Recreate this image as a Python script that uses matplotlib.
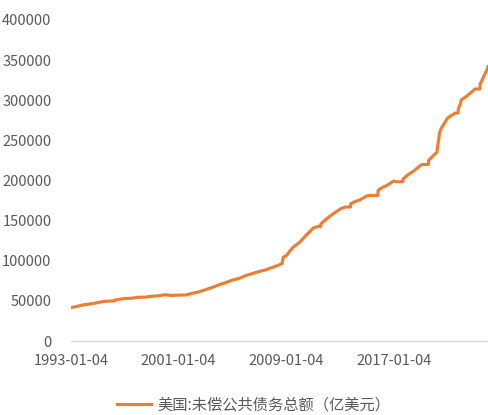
import matplotlib
matplotlib.use("Agg")
import matplotlib.pyplot as plt
import pandas as pd

plt.rcParams['font.family'] = ['Noto Sans CJK SC', 'DejaVu Sans']

dates = [
    "1993-01-04", "1993-07-01", "1994-01-03", "1994-07-01", "1995-01-03", "1995-07-03",
    "1996-01-02", "1996-03-15", "1996-04-01", "1996-07-01", "1997-01-02", "1997-07-01",
    "1998-01-02", "1998-07-01", "1999-01-04", "1999-07-01", "2000-01-03", "2000-07-03",
    "2001-01-04", "2001-07-02", "2002-01-02", "2002-07-01", "2003-01-02", "2003-07-01",
    "2004-01-02", "2004-07-01", "2005-01-03", "2005-07-01", "2006-01-03", "2006-07-03",
    "2007-01-03", "2007-07-02", "2008-01-02", "2008-07-01", "2008-09-15", "2008-10-15",
    "2009-01-02", "2009-07-01", "2010-01-04", "2010-07-01", "2011-01-03", "2011-05-16",
    "2011-08-01", "2011-08-03", "2012-01-03", "2012-07-02", "2013-01-02", "2013-05-20",
    "2013-10-16", "2013-10-18", "2014-01-02", "2014-07-01", "2015-01-02", "2015-03-16",
    "2015-10-30", "2015-11-04", "2016-01-04", "2016-07-01", "2017-01-03", "2017-03-16",
    "2017-09-07", "2017-09-11", "2018-01-02", "2018-07-02", "2019-01-02", "2019-03-04",
    "2019-07-31", "2019-08-05", "2020-01-02", "2020-03-16", "2020-06-01", "2020-07-15",
    "2021-01-04", "2021-07-30", "2021-10-15", "2021-10-20", "2021-12-20", "2022-01-03",
    "2022-07-01", "2023-01-19", "2023-06-02", "2023-06-06", "2023-09-15", "2023-12-28",
    "2024-01-05",
]
debt = [
    41700, 43500, 45400, 46400, 48000, 49600,
    49900, 49900, 51000, 51800, 53100, 53400,
    54600, 54700, 55900, 56400, 57800, 56800,
    57300, 57400, 59400, 61300, 64000, 66800,
    70000, 72800, 76000, 78000, 81700, 84200,
    86800, 88800, 92000, 94900, 97000, 104500,
    106300, 116700, 123100, 132000, 140600, 142900,
    143000, 146000, 152300, 158600, 164300, 167000,
    167000, 170800, 172900, 176000, 180800, 181500,
    181500, 187600, 190000, 194000, 199400, 198500,
    198500, 201700, 206500, 212000, 219000, 220000,
    220000, 225000, 232000, 235000, 260000, 265000,
    278000, 284000, 284000, 289000, 296000, 300000,
    306000, 314000, 314000, 320000, 330000, 340000,
    342000,
]
tick_dates = ["1993-01-04", "2001-01-04", "2009-01-04", "2017-01-04"]
y_ticks = [0, 50000, 100000, 150000, 200000, 250000, 300000, 350000, 400000]
series_name = "美国:未偿公共债务总额（亿美元）"

x = pd.to_datetime(dates)

fig = plt.figure(figsize=(4.88, 4.15), dpi=100)
ax = fig.add_axes([0.1455, 0.178, 1.0 - 0.1455, 0.952 - 0.178])
ax.plot(x, debt, color="#ED7D31", linewidth=2.25, label=series_name, solid_joinstyle="round")

ax.set_ylim(0, 400000)
ax.set_yticks(y_ticks)
ax.set_yticklabels([str(v) for v in y_ticks])
ax.set_xlim(x[0], x[-1])
ax.set_xticks(pd.to_datetime(tick_dates))
ax.set_xticklabels(tick_dates)

for s in ["top", "right", "left"]:
    ax.spines[s].set_visible(False)
ax.spines["bottom"].set_color("#D9D9D9")
ax.spines["bottom"].set_linewidth(1.0)
ax.tick_params(axis="both", length=0, colors="#595959", labelsize=10.5)
ax.tick_params(axis="y", pad=14)
ax.tick_params(axis="x", pad=9)

leg = fig.legend(loc="center", bbox_to_anchor=(0.52, 0.025), frameon=False,
                 fontsize=11, handlelength=2.2, handletextpad=0.4)
for t in leg.get_texts():
    t.set_color("#595959")

fig.savefig("out.png", dpi=100)
